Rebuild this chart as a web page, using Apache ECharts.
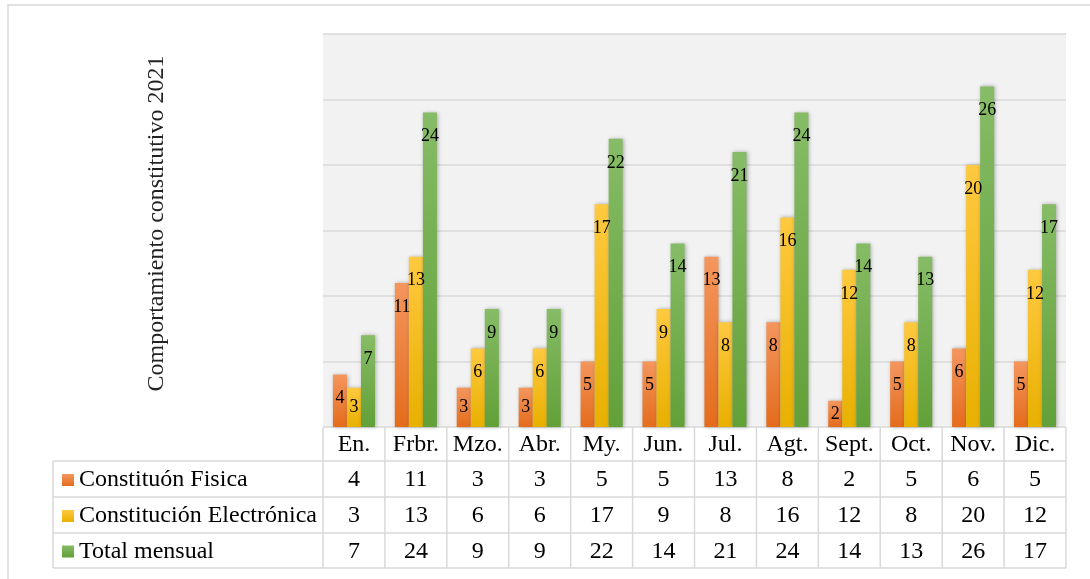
<!DOCTYPE html>
<html><head><meta charset="utf-8">
<script src="https://cdn.jsdelivr.net/npm/echarts@6/dist/echarts.min.js"></script>
<style>html,body{margin:0;padding:0;background:#fff}#c{width:1090px;height:579px}</style>
</head><body><div id="c"></div>
<script>
const categories = ['En.','Frbr.','Mzo.','Abr.','My.','Jun.','Jul.','Agt.','Sept.','Oct.','Nov.','Dic.'];
const seriesNames = ['Constituón Fisica','Constitución Electrónica','Total mensual'];
const fisica = [4,11,3,3,5,5,13,8,2,5,6,5];
const electronica = [3,13,6,6,17,9,8,16,12,8,20,12];
const total = [7,24,9,9,22,14,21,24,14,13,26,17];
const yAxisTitle = 'Comportamiento constitutivo 2021';
const yMax = 30, yInterval = 5;

const FONT = '"Liberation Serif", "Times New Roman", serif';
const TFS = 24;
const gradients = [
  ['#F4965E', '#E46C1C'],
  ['#FFC940', '#E8B000'],
  ['#86BC66', '#62A038']
];
const grad = (g) => new echarts.graphic.LinearGradient(0, 0, 0, 1, [{offset:0,color:g[0]},{offset:1,color:g[1]}]);
const allValues = [fisica, electronica, total];

const chart = echarts.init(document.getElementById('c'));
const GRID = {left: 323, right: 24, top: 34, bottom: 152};

chart.setOption({
  animation: false,
  grid: Object.assign({show: true, backgroundColor: '#f2f2f2', borderWidth: 0}, GRID),
  xAxis: {
    type: 'category', data: categories,
    axisLine: {show: false}, axisTick: {show: false}, axisLabel: {show: false}
  },
  yAxis: {
    type: 'value', min: 0, max: yMax, interval: yInterval,
    axisLabel: {show: false}, axisLine: {show: false}, axisTick: {show: false},
    splitLine: {lineStyle: {color: '#d9d9d9', width: 1.5}},
    name: yAxisTitle, nameLocation: 'middle', nameGap: 154, nameRotate: 90,
    nameTextStyle: {fontSize: TFS, fontFamily: FONT, color: '#222', padding: [0, 0, 0, 14]}
  },
  series: allValues.map((vals, i) => ({
    type: 'bar', name: seriesNames[i],
    barGap: '0%', barCategoryGap: '32%',
    itemStyle: {color: grad(gradients[i]), shadowBlur: 4, shadowColor: 'rgba(0,0,0,0.3)', shadowOffsetX: 1, shadowOffsetY: 0},
    label: {show: true, position: 'insideTop', distance: 15, fontSize: 18, fontFamily: FONT, color: '#000'},
    data: vals.map(v => v <= 3 ? {value: v, label: {position: 'inside'}} : v)
  }))
});

// Data table below the plot, laid out from the category axis scale
const c0 = chart.convertToPixel({xAxisIndex: 0}, categories[0]);
const c1 = chart.convertToPixel({xAxisIndex: 0}, categories[1]);
const colW = c1 - c0;
const tableLeft = c0 - colW / 2;
const tableRight = tableLeft + colW * categories.length;
const plotBottom = 579 - GRID.bottom;
const rowLines = [plotBottom, 461, 497, 533, 568];
const labelColLeft = 53;
const LINE = {stroke: '#d9d9d9', lineWidth: 1.5};
const g = [];
g.push({type: 'rect', shape: {x: 8, y: 5, width: 1200, height: 700}, style: {fill: 'none', stroke: '#d9d9d9', lineWidth: 1.5}, silent: true});
for (let i = 0; i <= categories.length; i++) {
  const x = tableLeft + i * colW;
  g.push({type: 'line', shape: {x1: x, y1: plotBottom, x2: x, y2: rowLines[4]}, style: LINE});
}
g.push({type: 'line', shape: {x1: labelColLeft, y1: rowLines[1], x2: labelColLeft, y2: rowLines[4]}, style: LINE});
for (let r = 1; r < rowLines.length; r++) {
  g.push({type: 'line', shape: {x1: labelColLeft, y1: rowLines[r], x2: tableRight, y2: rowLines[r]}, style: LINE});
}
categories.forEach((cat, i) => {
  g.push({type: 'text', x: chart.convertToPixel({xAxisIndex: 0}, cat), y: (rowLines[0] + rowLines[1]) / 2 + 1,
    style: {text: cat, align: 'center', verticalAlign: 'middle', fontSize: TFS, fontFamily: FONT, fill: '#000'}});
});
allValues.forEach((vals, r) => {
  const yc = (rowLines[r + 1] + rowLines[r + 2]) / 2 + 1;
  g.push({type: 'rect', shape: {x: 62, y: yc - 6, width: 12, height: 12}, style: {fill: grad(gradients[r])}});
  g.push({type: 'text', x: 79, y: yc, style: {text: seriesNames[r], align: 'left', verticalAlign: 'middle', fontSize: TFS, fontFamily: FONT, fill: '#000'}});
  vals.forEach((v, i) => {
    g.push({type: 'text', x: chart.convertToPixel({xAxisIndex: 0}, categories[i]), y: yc,
      style: {text: String(v), align: 'center', verticalAlign: 'middle', fontSize: TFS, fontFamily: FONT, fill: '#000'}});
  });
});
chart.setOption({graphic: g});
</script>
</body></html>
